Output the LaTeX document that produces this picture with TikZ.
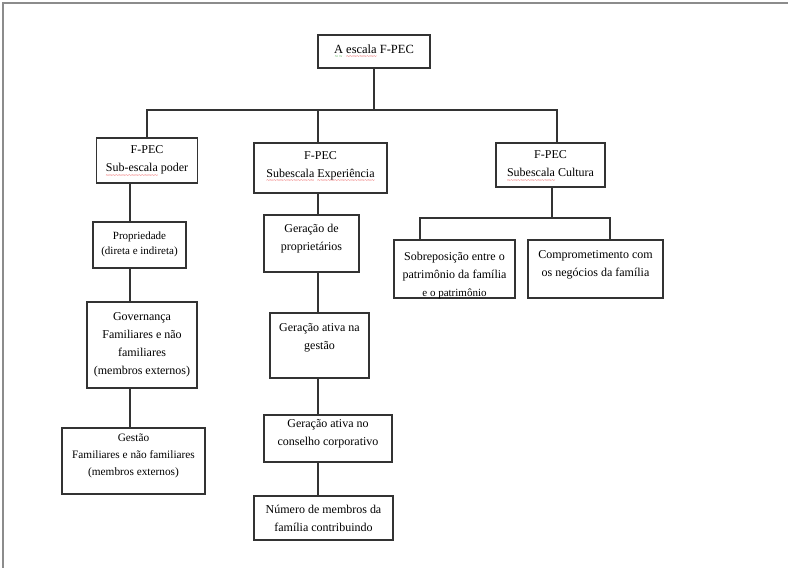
\documentclass[tikz,border=0pt]{standalone}
\usepackage{fontspec}
\setmainfont{Liberation Serif}
\definecolor{boxline}{gray}{0.2}
\definecolor{framegray}{gray}{0.55}
\definecolor{spellred}{rgb}{0.9,0.1,0.1}
\definecolor{spellgreen}{rgb}{0.1,0.6,0.1}
% wavy proofing mark under a word, built from small repeated tildes
\newcommand\wavemark[2]{\leavevmode\setbox0\hbox{#2}%
  \rlap{\textcolor{#1}{\lower5.5pt\hbox to \wd0{\fontsize{6}{6}\selectfont\xleaders\hbox{\char"7E}\hfill}}}\box0\relax}
\newcommand\redmark[1]{\wavemark{spellred}{#1}}
\newcommand\greenmark[1]{\wavemark{spellgreen}{#1}}
\begin{document}
\begin{tikzpicture}[x=1pt,y=-1pt,
  box/.style={draw=boxline, line width=1.2pt, fill=white, inner sep=0pt},
  txt/.style={align=center, inner sep=0pt, font=\fontsize{12}{18}\selectfont},
  small/.style={align=center, inner sep=0pt, font=\fontsize{11}{15.5}\selectfont},
  link/.style={draw=boxline, line width=1.2pt}]
\useasboundingbox (0,0) rectangle (788,568);
\fill[white] (0,0) rectangle (788,568);
% page frame
\draw[framegray, line width=1.6pt] (3,568) -- (3,3) -- (788,3);

% boxes
\node[box, minimum width=112, minimum height=33] (root) at (374,51.5) {};
\node[box, minimum width=101, minimum height=45] (b1) at (147,160.5) {};
\node[box, minimum width=133, minimum height=50] (b2) at (320.5,168) {};
\node[box, minimum width=109, minimum height=44] (b3) at (550.5,165) {};
\node[box, minimum width=93, minimum height=46] (prop) at (139.5,245) {};
\node[box, minimum width=110, minimum height=86] (gov) at (142,345) {};
\node[box, minimum width=143, minimum height=66] (gest) at (133.5,461) {};
\node[box, minimum width=95, minimum height=57] (gprop) at (311.5,243.5) {};
\node[box, minimum width=99, minimum height=65] (gges) at (319.5,345.5) {};
\node[box, minimum width=128, minimum height=47] (gcon) at (328,438.5) {};
\node[box, minimum width=139, minimum height=44] (num) at (323.5,518) {};
\node[box, minimum width=121, minimum height=58] (sob) at (454.5,269) {};
\node[box, minimum width=135, minimum height=58] (com) at (595.5,269) {};

% texts
\node[txt, font=\fontsize{12.5}{15}\selectfont] (roott) at (root.center) {\greenmark{A} \redmark{escala} F-PEC};
\node[txt] (b1t) at (147,161.5) {F-PEC\\\redmark{Sub-escala} poder};
\node[txt] (b2t) at (320.5,167) {F-PEC\\\redmark{Subescala} \redmark{Experiência}};
\node[txt] (b3t) at (550.5,166.5) {F-PEC\\\redmark{Subescala} Cultura};
\node[small] (propt) at (139.5,244.5) {Propriedade\\(direta e indireta)};
\node[txt] (govt) at (142,344.5) {Governança\\Familiares e não\\familiares\\(membros externos)};
\node[txt, font=\fontsize{11.3}{17}\selectfont] (gestt) at (133.5,455.5) {Gestão\\Familiares e não familiares\\(membros externos)};
\node[txt] (gpropt) at (311.5,238.5) {Geração de\\proprietários};
\node[txt] (ggest) at (319.5,338) {Geração ativa na\\gestão};
\node[txt] (gcont) at (328,434) {Geração ativa no\\conselho corporativo};
\node[txt] (numt) at (323.5,518) {Número de membros da\\família contribuindo};
\node[txt] (comt) at (595.5,264.5) {Comprometimento com\\os negócios da família};
\begin{scope}
  \clip (sob.north west) rectangle ([yshift=-9]sob.south east);
  \node[txt, anchor=north] (sobt) at (454.5,252) {Sobreposição entre o\\patrimônio da família\\{\fontsize{11}{18}\selectfont e o patrimônio}};
\end{scope}

% connector positions
\coordinate (bus) at (0,110);
\coordinate (bus3) at (0,218);
\coordinate (lx) at (130,0);
\coordinate (mx) at (318,0);
\coordinate (cx) at (557,0);
\coordinate (cy) at (552,0);
\coordinate (sx) at (420,0);
\coordinate (rx) at (610,0);

% top level
\draw[link] (root.south) -- (root.south |- bus);
\draw[link] (b1.north) -- (b1.north |- bus) -- (cx |- bus) -- (b3.north -| cx);
\draw[link] (b2.north -| mx) -- (mx |- bus);

% left branch
\draw[link] (b1.south -| lx) -- (prop.north -| lx);
\draw[link] (prop.south -| lx) -- (gov.north -| lx);
\draw[link] (gov.south -| lx) -- (gest.north -| lx);

% middle branch
\draw[link] (b2.south -| mx) -- (gprop.north -| mx);
\draw[link] (gprop.south -| mx) -- (gges.north -| mx);
\draw[link] (gges.south -| mx) -- (gcon.north -| mx);
\draw[link] (gcon.south -| mx) -- (num.north -| mx);

% right branch
\draw[link] (b3.south -| cy) -- (cy |- bus3);
\draw[link] (sob.north -| sx) -- (sx |- bus3) -- (rx |- bus3) -- (com.north -| rx);
\end{tikzpicture}
\end{document}
